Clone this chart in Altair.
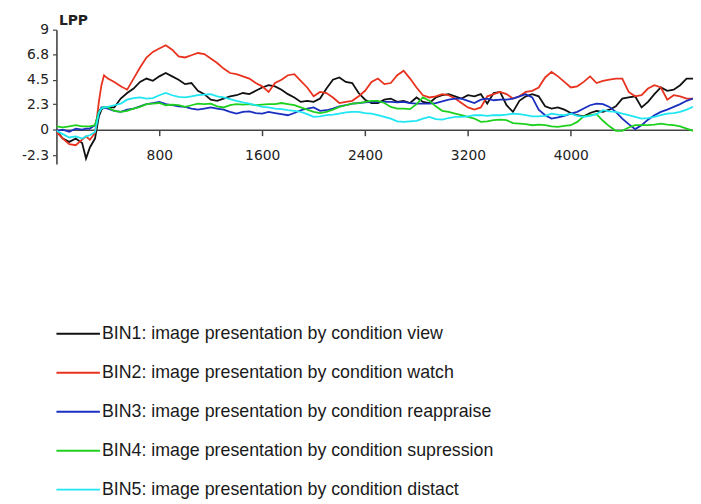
import altair as alt
import pandas as pd

names = [
    "BIN1: image presentation by condition view",
    "BIN2: image presentation by condition watch",
    "BIN3: image presentation by condition reappraise",
    "BIN4: image presentation by condition supression",
    "BIN5: image presentation by condition distact",
]
colors = ["#111111", "#e8321e", "#1a2fc0", "#1fd01f", "#1fe6f2"]

times = [0, 50, 100, 150, 200, 230, 260, 300, 330, 350, 370] + list(range(400, 5000, 50))

bin1 = [-0.1, -0.8, -1.1, -0.8, -1.2, -2.6, -1.6, -0.8, 1.2, 1.8, 2.0,
        2.0, 2.0, 2.8, 3.3, 3.7, 4.3, 4.6, 4.4, 4.8, 5.1, 4.8, 4.5,
        4.1, 4.2, 3.5, 3.2, 2.7, 2.6, 2.8, 3.0, 3.1, 3.3,
        3.2, 3.5, 3.8, 4.0, 3.9, 3.6, 3.2, 2.9, 2.5, 2.6,
        2.5, 2.8, 3.7, 4.5, 4.7, 4.3, 4.2, 3.3, 2.7, 2.4,
        2.4, 2.7, 2.8, 2.5, 2.6, 2.4, 2.9, 2.5, 2.4, 2.9,
        3.1, 3.2, 3.0, 2.8, 3.1, 3.0, 3.2, 2.35, 3.3, 3.4,
        2.2, 1.6, 2.6, 3.0, 3.2, 3.0, 2.1, 1.9, 2.0, 1.8,
        1.5, 1.3, 1.2, 1.5, 1.7, 1.6, 1.8, 2.1, 2.8, 2.9,
        3.0, 2.0, 2.5, 3.2, 3.8, 3.5, 3.6, 4.0, 4.6, 4.6]

bin2 = [-0.2, -0.8, -1.3, -1.4, -0.9, -0.6, -0.9, -0.3, 2.5, 4.0, 4.9,
        4.6, 4.3, 3.9, 3.6, 4.6, 5.6, 6.5, 7.0, 7.3, 7.6, 7.2, 6.6,
        6.5, 6.7, 6.9, 6.8, 6.4, 6.0, 5.5, 5.1, 5.0, 4.8,
        4.6, 4.2, 3.9, 3.4, 4.2, 4.5, 4.9, 5.0, 4.4, 3.8,
        3.0, 3.4, 3.3, 2.9, 2.4, 2.5, 2.6, 3.0, 3.5, 4.3,
        4.6, 4.1, 4.2, 4.9, 5.3, 4.6, 3.8, 3.1, 2.9, 3.0,
        3.2, 3.1, 2.8, 2.4, 2.0, 1.8, 2.0, 3.0, 3.2, 3.4,
        3.2, 2.8, 3.0, 3.4, 3.5, 3.8, 4.7, 5.2, 4.8, 4.3,
        3.8, 3.9, 4.3, 4.8, 4.2, 4.4, 4.5, 4.6, 4.6, 3.4,
        3.0, 3.1, 3.7, 4.0, 3.8, 2.7, 3.1, 3.0, 2.8, 2.8]

bin3 = [-0.1, 0.0, -0.2, 0.1, 0.0, 0.1, 0.1, 0.4, 1.6, 2.0, 2.0,
        1.9, 1.7, 1.6, 1.8, 1.9, 2.1, 2.3, 2.4, 2.5, 2.3, 2.2, 2.1,
        2.05, 1.9, 1.8, 1.9, 2.0, 1.9, 1.8, 1.6, 1.45, 1.6,
        1.65, 1.5, 1.45, 1.6, 1.5, 1.4, 1.3, 1.5, 1.75, 1.9,
        2.0, 1.7, 1.75, 1.9, 2.1, 2.2, 2.35, 2.4, 2.45, 2.5,
        2.5, 2.5, 2.5, 2.45, 2.5, 2.4, 2.35, 2.35, 2.35, 2.4,
        2.55, 2.7, 2.8, 2.8, 2.6, 2.4, 2.7, 2.8, 2.65, 2.7,
        2.7, 2.8, 3.0, 3.2, 2.9, 1.8, 1.3, 1.0, 1.1, 1.25,
        1.45, 1.6, 1.9, 2.2, 2.35, 2.3, 2.05, 1.6, 1.0, 0.5,
        0.05, 0.4, 0.9, 1.3, 1.6, 1.8, 2.05, 2.3, 2.6, 2.8]

bin4 = [0.3, 0.2, 0.3, 0.4, 0.3, 0.3, 0.3, 0.4, 1.6, 1.9, 2.05,
        2.0, 1.7, 1.6, 1.7, 1.9, 2.05, 2.3, 2.35, 2.4, 2.2, 2.25, 2.2,
        2.05, 2.2, 2.35, 2.3, 2.35, 2.1, 2.0, 2.2, 2.3, 2.25,
        2.3, 2.2, 2.25, 2.3, 2.3, 2.4, 2.3, 2.2, 2.0, 1.8,
        1.6, 1.5, 1.6, 1.8, 2.05, 2.2, 2.35, 2.4, 2.5, 2.6,
        2.6, 2.4, 2.05, 1.9, 1.9, 1.85, 2.3, 2.9, 2.6, 2.1,
        1.7, 1.6, 1.45, 1.3, 1.15, 1.0, 0.7, 0.75, 0.85, 0.9,
        0.85, 0.6, 0.55, 0.5, 0.4, 0.45, 0.4, 0.3, 0.25, 0.35,
        0.4, 0.7, 1.2, 1.3, 1.4, 0.8, 0.3, -0.1, -0.1, 0.2,
        0.4, 0.4, 0.4, 0.45, 0.55, 0.45, 0.4, 0.3, 0.1, -0.1]

bin5 = [-0.1, -0.4, -0.7, -0.6, -0.8, -0.6, -0.5, -0.2, 1.5, 1.9, 2.0,
        2.05, 2.2, 2.35, 2.7, 2.85, 2.9, 2.8, 2.85, 3.1, 3.3, 3.1, 2.95,
        2.9, 3.0, 3.1, 3.15, 3.2, 3.0, 2.9, 2.75, 2.6, 2.45,
        2.35, 2.2, 2.05, 2.0, 1.9, 1.85, 1.75, 1.7, 1.6, 1.4,
        1.15, 1.2, 1.3, 1.35, 1.45, 1.55, 1.6, 1.6, 1.5, 1.45,
        1.3, 1.15, 1.0, 0.75, 0.7, 0.75, 0.8, 1.0, 1.15, 0.95,
        0.9, 1.05, 1.15, 1.15, 1.2, 1.3, 1.3, 1.25, 1.3, 1.3,
        1.35, 1.45, 1.4, 1.3, 1.2, 1.2, 1.25, 1.45, 1.35, 1.3,
        1.45, 1.25, 1.15, 1.25, 1.4, 1.75, 1.65, 1.6, 1.45, 1.3,
        1.15, 1.0, 1.05, 1.15, 1.3, 1.45, 1.5, 1.6, 1.8, 2.05]

x_ticks = [800, 1600, 2400, 3200, 4000]
y_ticks = [-2.3, 0, 2.3, 4.5, 6.8, 9]

series = [bin1, bin2, bin3, bin4, bin5]
rows = []
for i, (name, vals) in enumerate(zip(names, series)):
    for t, v in zip(times, vals):
        rows.append({"t": t, "v": v, "name": name, "order": i})
df = pd.DataFrame(rows)

color_scale = alt.Scale(domain=names, range=colors)
axis_font = "DejaVu Sans"

top = alt.Chart(df).mark_line(strokeWidth=1.8, clip=True).encode(
    x=alt.X("t:Q", title=None,
            scale=alt.Scale(domain=[0, 4950], nice=False, zero=False),
            axis=alt.Axis(values=x_ticks, format="d", offset=-34.8, grid=False,
                          domainColor="#444444", domainWidth=1.6,
                          tickColor="#444444", tickWidth=1.5, tickSize=6,
                          labelPadding=13, labelFont=axis_font, labelFontSize=14,
                          labelColor="#222222")),
    y=alt.Y("v:Q",
            scale=alt.Scale(domain=[-3.1, 9], nice=False, zero=False),
            axis=alt.Axis(values=y_ticks, grid=False, title="LPP",
                          labelExpr="replace(format(datum.value, '.2~f'), '\u2212', '-')",
                          domainColor="#444444", domainWidth=1.6,
                          tickColor="#444444", tickWidth=1.2, tickSize=4,
                          labelPadding=4, labelFont=axis_font, labelFontSize=14,
                          labelColor="#222222",
                          titleAngle=0, titleAlign="left", titleBaseline="alphabetic",
                          titleX=2, titleY=-5, titleFont=axis_font,
                          titleFontSize=14, titleFontWeight="bold",
                          titleColor="#222222")),
    color=alt.Color("name:N", scale=color_scale, legend=None),
    detail="order:O",
).properties(width=644, height=136)

legdf = pd.DataFrame({"name": names})
base = alt.Chart(legdf).encode(
    y=alt.Y("name:N", sort=names, axis=None,
            scale=alt.Scale(paddingInner=0, paddingOuter=0)))
rules = base.mark_rule(strokeWidth=2).encode(
    x=alt.value(0), x2=alt.value(44),
    color=alt.Color("name:N", scale=color_scale, legend=None))
texts = base.mark_text(align="left", baseline="middle",
                       font="Liberation Sans Narrow, Arial Narrow, Liberation Sans, sans-serif",
                       fontSize=18, color="#1a1a1a").encode(
    x=alt.value(46), text="name:N")
legend_chart = (rules + texts).properties(width=600, height=197)

chart = alt.vconcat(top, legend_chart, spacing=152).properties(
    padding={"left": 13, "top": 3, "right": 0, "bottom": 0}
).configure_view(stroke=None)

chart.save("out.html", embed_options={"renderer": "svg", "actions": False})
